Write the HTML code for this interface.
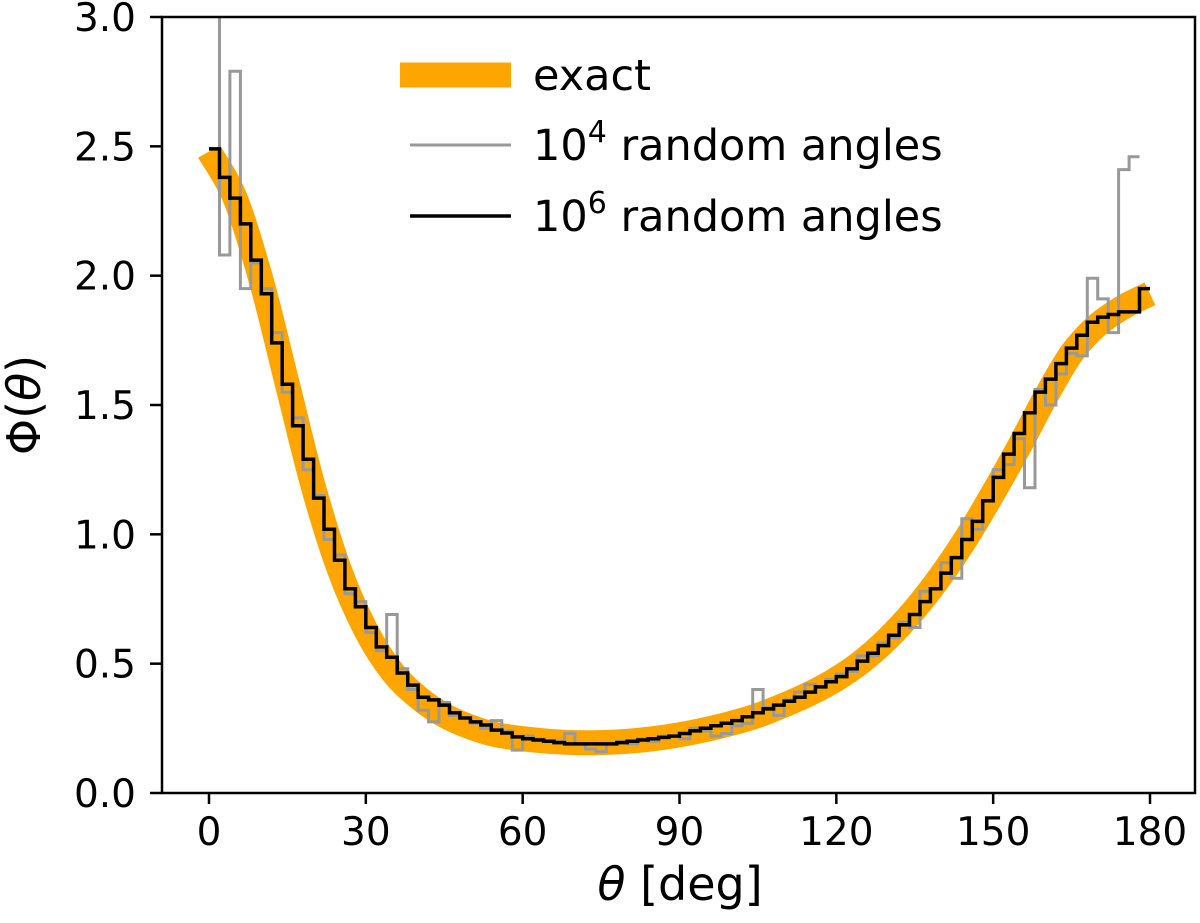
<!DOCTYPE html>
<html><head><meta charset="utf-8"><style>
html,body{margin:0;padding:0;background:#fff;}
svg{display:block;font-family:"DejaVu Sans","Liberation Sans",sans-serif;}
</style></head><body>
<svg id="chart" width="1200" height="923" viewBox="0 0 1200 923" xmlns="http://www.w3.org/2000/svg">
<defs><clipPath id="plotclip"><rect x="162" y="17" width="1033" height="776"/></clipPath></defs>
<g id="series" clip-path="url(#plotclip)"></g>
<rect x="162" y="17" width="1033" height="776" fill="none" stroke="#000" stroke-width="2.5"/>
<g id="axes"></g>
<text x="680" y="900" font-size="46" text-anchor="middle"><tspan font-style="italic">θ</tspan> [deg]</text>
<text transform="translate(40,405) rotate(-90)" font-size="46" text-anchor="middle">Φ(<tspan font-style="italic">θ</tspan>)</text>
<g>
<line x1="400" y1="75" x2="511" y2="75" stroke="#FFA500" stroke-width="25"/>
<text x="533" y="90" font-size="43">exact</text>
<line x1="410" y1="145" x2="511" y2="145" stroke="#999" stroke-width="3"/>
<text x="533" y="160" font-size="43">10<tspan dy="-18" font-size="30">4</tspan><tspan dy="18"> random angles</tspan></text>
<line x1="410" y1="216" x2="511" y2="216" stroke="#000" stroke-width="3.5"/>
<text x="533" y="231" font-size="43">10<tspan dy="-18" font-size="30">6</tspan><tspan dy="18"> random angles</tspan></text>
</g>
</svg>
<script>
const exactAngles=[0,5,10,15,20,25,30,35,40,45,50,55,60,65,70,75,80,85,90,95,100,105,110,115,120,125,130,135,140,145,150,155,160,165,170,175,180];
const exactValues=[2.48,2.30,1.98,1.58,1.18,0.86,0.63,0.47,0.37,0.30,0.255,0.225,0.21,0.20,0.195,0.195,0.20,0.21,0.225,0.245,0.27,0.30,0.34,0.385,0.44,0.51,0.60,0.71,0.84,0.99,1.16,1.34,1.53,1.70,1.81,1.88,1.93];
const binWidth=2;
const hist6=[2.49,2.38,2.30,2.20,2.06,1.93,1.74,1.58,1.42,1.29,1.14,1.02,0.90,0.79,0.72,0.64,0.565,0.525,0.464,0.417,0.37,0.36,0.34,0.31,0.29,0.275,0.263,0.243,0.232,0.217,
0.21,0.205,0.20,0.195,0.19,0.19,0.19,0.19,0.19,0.195,0.20,0.205,0.21,0.215,0.22,
0.23,0.24,0.25,0.26,0.27,0.28,0.295,0.31,0.325,0.34,0.355,0.37,0.39,0.41,0.43,
0.45,0.48,0.51,0.54,0.57,0.61,0.65,0.69,0.74,0.79,0.85,0.91,0.98,1.05,1.13,
1.22,1.31,1.39,1.47,1.55,1.60,1.66,1.72,1.77,1.82,1.84,1.85,1.86,1.86,1.95];
const hist4=[3.8,2.08,2.79,1.95,2.05,1.95,1.78,1.55,1.45,1.25,1.15,0.98,0.92,0.77,0.74,0.62,0.55,0.69,0.48,0.40,0.32,0.275,0.35,0.30,0.29,0.27,0.25,0.28,0.24,0.166,
0.22,0.21,0.20,0.20,0.23,0.19,0.17,0.16,0.19,0.20,0.19,0.21,0.20,0.22,0.22,
0.21,0.25,0.24,0.22,0.23,0.26,0.27,0.40,0.33,0.30,0.36,0.39,0.42,0.41,0.44,
0.46,0.47,0.53,0.53,0.58,0.60,0.66,0.64,0.78,0.79,0.89,0.83,1.06,1.02,1.13,
1.25,1.27,1.37,1.18,1.56,1.50,1.62,1.70,1.69,1.99,1.91,1.78,2.41,2.46];
const xTicks=[0,30,60,90,120,150,180];
const yTicks=[0.0,0.5,1.0,1.5,2.0,2.5,3.0];
const yTickLabels=["0.0","0.5","1.0","1.5","2.0","2.5","3.0"];

const X=d=>209+d*(941/180);
const Y=v=>793-v*(776/3);
const NS="http://www.w3.org/2000/svg";
const series=document.getElementById('series');
const axes=document.getElementById('axes');
function mk(tag,attrs,parent){const e=document.createElementNS(NS,tag);for(const k in attrs)e.setAttribute(k,attrs[k]);parent.appendChild(e);return e;}

// smooth curve (Catmull-Rom -> cubic Bezier) through the exact samples
const pts=exactAngles.map((a,i)=>[X(a),Y(exactValues[i])]);
let d='M'+pts[0][0].toFixed(1)+' '+pts[0][1].toFixed(1);
for(let i=0;i<pts.length-1;i++){
  const p0=pts[Math.max(0,i-1)],p1=pts[i],p2=pts[i+1],p3=pts[Math.min(pts.length-1,i+2)];
  const c1=[p1[0]+(p2[0]-p0[0])/6,p1[1]+(p2[1]-p0[1])/6];
  const c2=[p2[0]-(p3[0]-p1[0])/6,p2[1]-(p3[1]-p1[1])/6];
  d+='C'+c1[0].toFixed(1)+' '+c1[1].toFixed(1)+' '+c2[0].toFixed(1)+' '+c2[1].toFixed(1)+' '+p2[0].toFixed(1)+' '+p2[1].toFixed(1);
}
const ex=mk('path',{d:d,fill:'none',stroke:'#FFA500','stroke-width':25},series);



function stepPath(vals){let p='';vals.forEach((v,i)=>{const x0=X(i*binWidth),x1=X((i+1)*binWidth),y=Y(v);p+=(i?'V'+y.toFixed(1):'M'+x0.toFixed(1)+' '+y.toFixed(1))+'H'+x1.toFixed(1);});return p;}
const g4=mk('path',{d:stepPath(hist4),fill:'none',stroke:'#999','stroke-width':3},series);


const g6=mk('path',{d:stepPath(hist6),fill:'none',stroke:'#000','stroke-width':3.5},series);



xTicks.forEach(t=>{
  const l=mk('line',{x1:X(t),x2:X(t),y1:793,y2:804,stroke:'#000','stroke-width':2.5},axes);
  
  
  const tx=mk('text',{x:X(t),y:845,'font-size':39,'text-anchor':'middle'},axes);
  tx.textContent=t;
  
  
});
yTicks.forEach((t,i)=>{
  const l=mk('line',{x1:150,x2:162,y1:Y(t),y2:Y(t),stroke:'#000','stroke-width':2.5},axes);
  
  
  const tx=mk('text',{x:136,y:Y(t)+14,'font-size':39,'text-anchor':'end'},axes);
  tx.textContent=yTickLabels[i];
  
  
});
</script>
</body></html>
